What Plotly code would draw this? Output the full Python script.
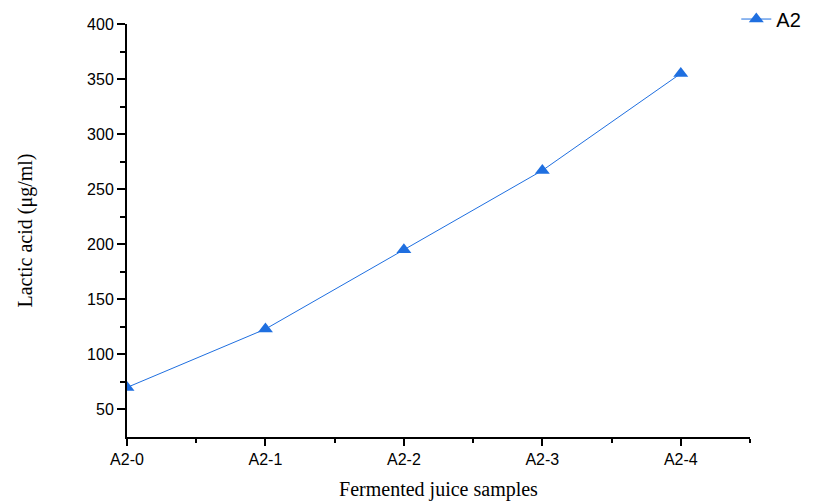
import plotly.graph_objects as go

categories = ["A2-0", "A2-1", "A2-2", "A2-3", "A2-4"]
values = [70, 123, 195, 267, 355]
series_name = "A2"

x_pos = list(range(len(categories)))

fig = go.Figure()
fig.add_trace(go.Scatter(
    x=x_pos, y=values, name=series_name, mode="lines+markers",
    line=dict(color="#1F6FE0", width=1),
    marker=dict(symbol="triangle-up", size=13, color="#1F6FE0"),
))

fig.update_layout(
    width=819, height=494,
    margin=dict(l=119, r=77, t=16, b=65, autoexpand=False),
    paper_bgcolor="white", plot_bgcolor="white",
    font=dict(family="Liberation Sans, Arial", size=16, color="black"),
    showlegend=True,
    legend=dict(x=0.978, y=1.012, xanchor="left", yanchor="middle",
                bgcolor="rgba(0,0,0,0)", font=dict(size=20)),
)
fig.update_xaxes(
    range=[0, 4.5], tickvals=x_pos, ticktext=categories,
    showline=True, linecolor="black", linewidth=2,
    ticks="outside", ticklen=7, tickwidth=2, tickcolor="black",
    minor=dict(tickvals=[0.5, 1.5, 2.5, 3.5, 4.5], ticks="outside", ticklen=4, tickwidth=2, tickcolor="black"),
    showgrid=False, zeroline=False,
    title=dict(text="Fermented juice samples", font=dict(family="Liberation Serif, Times New Roman", size=20), standoff=15),
)
fig.update_yaxes(
    range=[25, 400], tickvals=[50, 100, 150, 200, 250, 300, 350, 400],
    showline=True, linecolor="black", linewidth=2,
    ticks="outside", ticklen=8, tickwidth=2, tickcolor="black",
    minor=dict(tickvals=[75, 125, 175, 225, 275, 325, 375], ticks="outside", ticklen=5, tickwidth=2, tickcolor="black"),
    showgrid=False, zeroline=False,
    title=dict(text="Lactic acid (μg/ml)", font=dict(family="Liberation Serif, Times New Roman", size=20), standoff=49),
)

fig.write_html("out.html")
